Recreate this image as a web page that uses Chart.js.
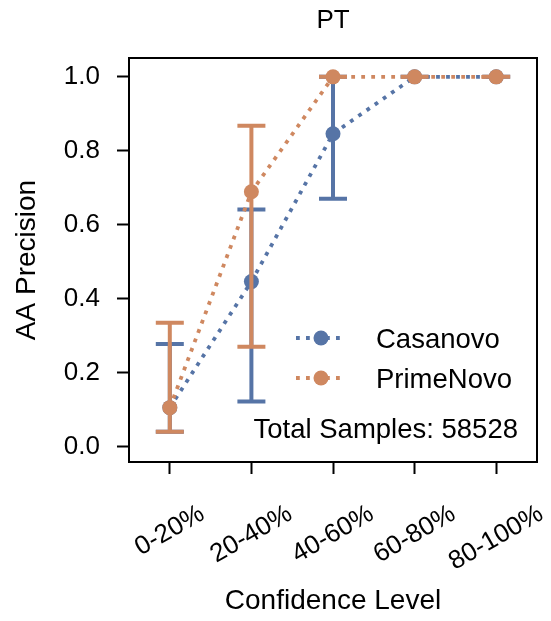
<!DOCTYPE html>
<html><head><meta charset="utf-8">
<script src="https://cdn.jsdelivr.net/npm/chart.js@4/dist/chart.umd.min.js"></script>
<style>html,body{margin:0;padding:0;background:#fff;}canvas{display:block;}</style>
</head><body>
<canvas id="c" width="551" height="621"></canvas>
<script>
const categories = ['0-20%', '20-40%', '40-60%', '60-80%', '80-100%'];
const casanovoPrecision = [0.105, 0.446, 0.846, 1.0, 1.0];
const casanovoLower = [0.04, 0.122, 0.67, 1.0, 1.0];
const casanovoUpper = [0.277, 0.641, 1.0, 1.0, 1.0];
const primeNovoPrecision = [0.105, 0.689, 1.0, 1.0, 1.0];
const primeNovoLower = [0.04, 0.27, 1.0, 1.0, 1.0];
const primeNovoUpper = [0.335, 0.868, 1.0, 1.0, 1.0];
const yTicks = [0, 0.2, 0.4, 0.6, 0.8, 1.0];
const totalSamples = 58528;

const BLUE = '#5674A6';
const ORANGE = '#CF8860';
const FONT = '"Liberation Sans", Arial, sans-serif';
const FS_TICK = 26;
const FS_AXIS = 28;
const FS_TEXT = 27.5;

const errorBarPlugin = {
  id: 'errorBars',
  beforeDatasetDraw(chart, args) {
    const ds = chart.data.datasets[args.index];
    const xs = chart.scales.x, ys = chart.scales.y, ctx = chart.ctx;
    ctx.save();
    ctx.strokeStyle = ds.borderColor;
    ctx.lineWidth = 4;
    ctx.lineCap = 'butt';
    ds.errLow.forEach((lo, i) => {
      const px = xs.getPixelForValue(i);
      const p1 = ys.getPixelForValue(lo), p2 = ys.getPixelForValue(ds.errHigh[i]);
      ctx.beginPath();
      ctx.moveTo(px, p1); ctx.lineTo(px, p2);
      ctx.moveTo(px - 14, p1); ctx.lineTo(px + 14, p1);
      ctx.moveTo(px - 14, p2); ctx.lineTo(px + 14, p2);
      ctx.stroke();
    });
    ctx.restore();
  }
};

const decorPlugin = {
  id: 'decor',
  beforeDatasetsDraw(chart) {
    const {ctx, chartArea: a} = chart;
    ctx.save();
    ctx.strokeStyle = '#000'; ctx.lineWidth = 2;
    ctx.strokeRect(a.left, a.top, a.right - a.left, a.bottom - a.top);
    ctx.restore();
  },
  afterDraw(chart) {
    const {ctx} = chart;
    const xs = chart.scales.x;
    ctx.save();
    ctx.fillStyle = '#000';
    ctx.font = FS_TICK + 'px ' + FONT;
    const ang = 30 * Math.PI / 180;
    const yTop = 499;
    ctx.textAlign = 'center'; ctx.textBaseline = 'middle';
    categories.forEach((c, i) => {
      const px = xs.getPixelForValue(i);
      const w = ctx.measureText(c).width;
      const h = FS_TICK * 1.15;
      const cy = yTop + (w * Math.sin(ang) + h * Math.cos(ang)) / 2;
      ctx.save(); ctx.translate(px, cy); ctx.rotate(-ang); ctx.fillText(c, 0, 0); ctx.restore();
    });
    ctx.font = FS_TEXT + 'px ' + FONT;
    chart.data.datasets.forEach(d => {
      const y = d.legendY;
      ctx.save();
      ctx.strokeStyle = d.borderColor; ctx.lineWidth = 3.8; ctx.setLineDash([3.8, 6.2]);
      ctx.beginPath(); ctx.moveTo(296, y); ctx.lineTo(346, y); ctx.stroke();
      ctx.setLineDash([]);
      ctx.fillStyle = d.borderColor;
      ctx.beginPath(); ctx.arc(321, y, 7.5, 0, Math.PI * 2); ctx.fill();
      ctx.restore();
      ctx.textAlign = 'left'; ctx.textBaseline = 'alphabetic';
      ctx.fillText(d.label, 376, y + 10);
    });
    ctx.textAlign = 'right'; ctx.textBaseline = 'alphabetic';
    ctx.fillText('Total Samples: ' + totalSamples, 518, 438);
    ctx.restore();
  }
};

const lineStyle = {
  borderWidth: 3.8, borderDash: [3.8, 6.2], borderCapStyle: 'butt',
  pointRadius: 7.5, pointHoverRadius: 7.5, pointBorderWidth: 0, tension: 0, fill: false
};

new Chart(document.getElementById('c'), {
  type: 'line',
  data: {
    labels: categories,
    datasets: [
      Object.assign({label: 'Casanovo', data: casanovoPrecision, errLow: casanovoLower, errHigh: casanovoUpper,
        borderColor: BLUE, backgroundColor: BLUE, pointBackgroundColor: BLUE, order: 1, legendY: 338}, lineStyle),
      Object.assign({label: 'PrimeNovo', data: primeNovoPrecision, errLow: primeNovoLower, errHigh: primeNovoUpper,
        borderColor: ORANGE, backgroundColor: ORANGE, pointBackgroundColor: ORANGE, order: 0, legendY: 378}, lineStyle)
    ]
  },
  options: {
    responsive: false, animation: false, devicePixelRatio: 1,
    layout: {padding: {left: 0, right: 14, top: 0, bottom: 0}},
    plugins: {
      legend: {display: false}, tooltip: {enabled: false},
      title: {display: true, text: 'PT', fullSize: false, color: '#000',
        font: {family: FONT, size: FS_TICK, weight: 'normal'}, padding: {top: 5.4, bottom: 21.4}}
    },
    scales: {
      x: {
        type: 'category', offset: true,
        grid: {offset: false, drawOnChartArea: false, drawTicks: true, tickLength: 12, tickWidth: 2, tickColor: '#000'},
        border: {display: false},
        ticks: {display: false},
        title: {display: true, text: 'Confidence Level', color: '#000', font: {family: FONT, size: FS_AXIS}, padding: {top: 0, bottom: 2.5}},
        afterFit(s) { s.height = 159; }
      },
      y: {
        type: 'linear', min: -0.042, max: 1.051,
        afterBuildTicks(s) { s.ticks = yTicks.map(v => ({value: v})); },
        grid: {drawOnChartArea: false, drawTicks: true, tickLength: 12, tickWidth: 2, tickColor: '#000'},
        border: {display: false},
        ticks: {color: '#000', padding: 17, font: {family: FONT, size: FS_TICK}, callback: v => v.toFixed(1)},
        title: {display: true, text: 'AA Precision', color: '#000', font: {family: FONT, size: FS_AXIS}, padding: {top: 10.5, bottom: 0}},
        afterFit(s) { s.width = 129; }
      }
    }
  },
  plugins: [errorBarPlugin, decorPlugin]
});
</script>
</body></html>
